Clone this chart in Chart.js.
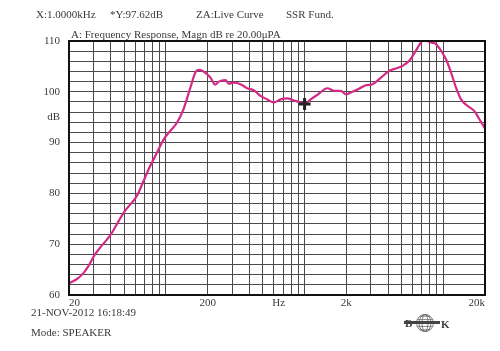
<!DOCTYPE html>
<html>
<head>
<meta charset="utf-8">
<script src="https://cdn.jsdelivr.net/npm/chart.js@4"></script>
<style>
  body { margin: 0; background: #fff; }
  canvas { display: block; }
</style>
</head>
<body>
<canvas id="fr" width="500" height="351"></canvas>
<script>
const frequencies = [20, 22.7, 25.4, 27.6, 30.8, 33.5, 37.5, 40.7, 45.5, 50.8, 55.2, 61.7, 68.9, 74.9, 86.1, 96.2,
    107.5, 120, 134, 150, 163, 172, 187, 209, 227, 240, 269, 284, 308, 345, 385, 430, 481, 538, 600, 671, 750, 838,
    936, 1000, 1106, 1236, 1460, 1630, 1822, 1980, 2214, 2472, 2762, 3090, 3450, 4070, 4550, 5090, 5680, 6350, 6900,
    7290, 8150, 8860, 9630, 10470, 11380, 12360, 13430, 15020, 16770, 18220, 20000];
const levels = [62.3, 63.1, 64.3, 65.7, 68.0, 69.3, 70.9, 72.2, 74.5, 76.6, 77.8, 79.5, 82.4, 84.7, 88.0, 90.6,
    92.3, 93.9, 96.6, 100.8, 103.8, 104.3, 104.0, 102.8, 101.4, 102.0, 102.3, 101.6, 101.8, 101.5, 100.7, 100.3, 99.2,
    98.5, 97.9, 98.5, 98.7, 98.3, 97.9, 97.6, 98.5, 99.4, 100.7, 100.2, 100.2, 99.5, 100.0, 100.6, 101.3, 101.5, 102.5,
    104.1, 104.6, 105.1, 106.1, 108.1, 109.7, 110.2, 109.7, 109.4, 108.1, 106.4, 103.8, 100.8, 98.5, 97.2, 96.2, 94.6, 92.8];

// cursor readout
const cursorFreq = 1000;
const cursorLevel = 97.62;

// axis ticks / labels
const xGridValues = [20, 30, 40, 50, 60, 70, 80, 90, 100, 200, 300, 400, 500, 600, 650, 700, 800, 900, 1000,
    2000, 3000, 4000, 5000, 6000, 7000, 8000, 9000, 10000, 20000];
const xTickLabels = { 20: '20', 200: '200', 650: 'Hz', 2000: '2k', 20000: '20k' };
const yGridValues = [60, 62, 64, 66, 68, 70, 72, 74, 76, 78, 80, 82, 84, 86, 88, 90, 92, 94, 95, 96, 98, 100,
    102, 104, 106, 108, 110];
const yTickLabels = { 60: '60', 70: '70', 80: '80', 90: '90', 95: 'dB', 100: '100', 110: '110' };
const labelOnly = [650, 95]; // ticks that carry a label but no grid line

const headerLine1 = [['X:1.0000kHz', 36], ['*Y:97.62dB', 110], ['ZA:Live Curve', 196], ['SSR Fund.', 286]];
const headerLine2 = 'A: Frequency Response, Magn dB re 20.00\u03bcPA';
const footerLines = ['21-NOV-2012 16:18:49', 'Mode: SPEAKER'];

const FONT = "'Liberation Serif', serif";
const INK = '#3a3a3a';

// text around the plot + frame + B&K logo
const printout = {
    id: 'printout',
    afterDraw(chart) {
        const ctx = chart.ctx;
        const a = chart.chartArea;
        ctx.save();

        ctx.strokeStyle = '#111';
        ctx.lineWidth = 2;
        ctx.strokeRect(a.left, a.top, a.right - a.left, a.bottom - a.top);

        ctx.fillStyle = INK;
        ctx.font = '11px ' + FONT;
        ctx.textBaseline = 'alphabetic';
        headerLine1.forEach(([t, x]) => ctx.fillText(t, x, 18));
        ctx.fillText(headerLine2, 71, 38);
        ctx.fillText(footerLines[0], 31, 316);
        ctx.fillText(footerLines[1], 31, 336);

        // logo
        const cx = 425, cy = 323, r = 8.5;
        ctx.strokeStyle = '#666';
        ctx.lineWidth = 0.8;
        ctx.beginPath();
        ctx.arc(cx, cy, r, 0, Math.PI * 2);
        ctx.stroke();
        for (let k = -2; k <= 2; k++) {
            const dy = k * 3.4;
            const hw = Math.sqrt(Math.max(r * r - dy * dy, 0));
            ctx.beginPath();
            ctx.moveTo(cx - hw, cy + dy);
            ctx.lineTo(cx + hw, cy + dy);
            ctx.stroke();
        }
        [3, 6].forEach(w => {
            ctx.beginPath();
            ctx.ellipse(cx, cy, w, r, 0, 0, Math.PI * 2);
            ctx.stroke();
        });
        ctx.fillStyle = '#444';
        ctx.fillRect(404, 321, 36, 3);
        ctx.font = 'bold 11px ' + FONT;
        ctx.fillText('B', 405, 327);
        ctx.fillText('K', 441, 328);
        ctx.restore();
    }
};

new Chart(document.getElementById('fr'), {
    type: 'line',
    data: {
        datasets: [
            {
                label: 'cursor',
                data: [{ x: cursorFreq, y: cursorLevel }],
                showLine: false,
                pointStyle: 'cross',
                pointRadius: 6,
                pointBorderWidth: 3,
                pointBorderColor: '#222',
                order: 0
            },
            {
                label: 'Live Curve',
                data: frequencies.map((f, i) => ({ x: f, y: levels[i] })),
                borderColor: '#d42a86',
                borderWidth: 2.2,
                pointRadius: 0,
                cubicInterpolationMode: 'monotone',
                order: 1
            }
        ]
    },
    options: {
        responsive: false,
        animation: false,
        layout: { padding: { top: 41, right: 15, bottom: 0, left: 0 } },
        plugins: { legend: { display: false }, tooltip: { enabled: false } },
        scales: {
            x: {
                type: 'logarithmic',
                min: 20,
                max: 20000,
                afterBuildTicks: s => { s.ticks = xGridValues.map(v => ({ value: v })); },
                afterFit: s => { s.height = 56; },
                grid: {
                    color: c => labelOnly.includes(c.tick && c.tick.value) ? 'rgba(0,0,0,0)' : '#4a4a4a',
                    lineWidth: 1,
                    drawTicks: false
                },
                border: { display: false },
                ticks: {
                    autoSkip: false,
                    maxRotation: 0,
                    align: 'inner',
                    padding: 2,
                    color: INK,
                    font: { family: FONT, size: 11 },
                    callback: v => xTickLabels[v] || ''
                }
            },
            y: {
                min: 60,
                max: 110,
                afterBuildTicks: s => { s.ticks = yGridValues.map(v => ({ value: v })); },
                afterFit: s => { s.width = 69; },
                grid: {
                    color: c => labelOnly.includes(c.tick && c.tick.value) ? 'rgba(0,0,0,0)' : '#4a4a4a',
                    lineWidth: 1,
                    drawTicks: false
                },
                border: { display: false },
                ticks: {
                    autoSkip: false,
                    padding: 9,
                    color: INK,
                    font: { family: FONT, size: 11 },
                    callback: v => yTickLabels[v] || ''
                }
            }
        }
    },
    plugins: [printout]
});
</script>
</body>
</html>
